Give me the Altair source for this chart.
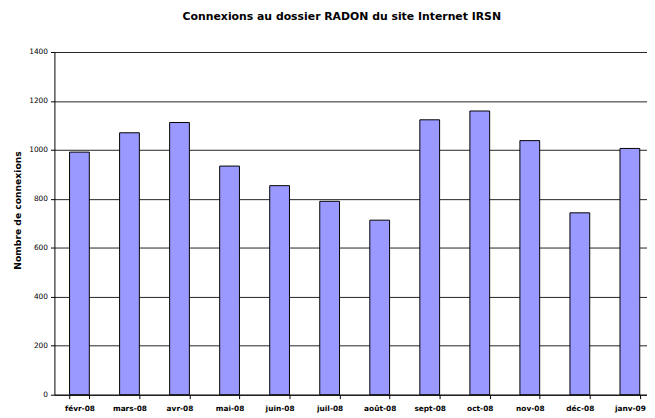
import altair as alt
import pandas as pd

months = ["févr-08", "mars-08", "avr-08", "mai-08", "juin-08", "juil-08",
          "août-08", "sept-08", "oct-08", "nov-08", "déc-08", "janv-09"]
connexions = [991, 1070, 1112, 934, 854, 790, 713, 1123, 1159, 1038, 743, 1006]
y_ticks = [0, 200, 400, 600, 800, 1000, 1200, 1400]

df = pd.DataFrame({"mois": months, "connexions": connexions})

FONT = "DejaVu Sans"

bars = alt.Chart(df).mark_bar(
    color="#9999FF", stroke="#000000", strokeWidth=1
).encode(
    x=alt.X("mois:N", sort=months, title=None,
            scale=alt.Scale(range=[0, 608], paddingInner=0.605, paddingOuter=0.3025),
            axis=alt.Axis(labelAngle=0, tickBand="extent", tickSize=4, tickColor="#000",
                          domainColor="#000", labelFont=FONT, labelFontSize=7.5,
                          labelFontWeight="bold", labelColor="#000", labelPadding=6,
                          grid=False)),
    y=alt.Y("connexions:Q", title="Nombre de connexions",
            scale=alt.Scale(domain=[0, 1400], nice=False),
            axis=alt.Axis(values=y_ticks, format="d", tickSize=4, tickColor="#000",
                          domainColor="#000", gridColor="#222", gridWidth=1,
                          labelFont=FONT, labelFontSize=7.5, labelColor="#000",
                          labelPadding=3,
                          titleFont=FONT, titleFontSize=9.3, titleFontWeight="bold",
                          titleColor="#000", titleX=-37, titleY=160,
                          titleBaseline="middle")),
)

chart = bars.properties(
    width=600, height=347,
    autosize="none",
    padding={"left": 47, "top": 42, "right": 0, "bottom": 18},
    title=alt.Title("Connexions au dossier RADON du site Internet IRSN",
                    font=FONT, fontSize=11, fontWeight="bold", color="#000",
                    anchor="middle", dx=-9, offset=26),
).configure_view(stroke=None)

chart.save("out.html", embed_options={"renderer": "svg", "actions": False})
